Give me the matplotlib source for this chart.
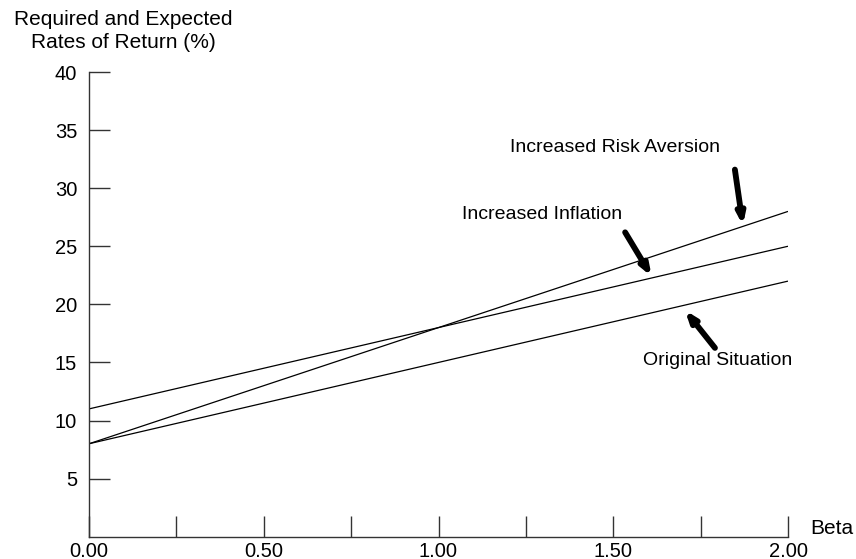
import matplotlib
matplotlib.use("Agg")
import matplotlib.pyplot as plt

plt.rcParams['font.family'] = ['Liberation Sans', 'DejaVu Sans']

beta = [0.0, 2.0]
original = [8, 22]
inflation = [11, 25]
risk_aversion = [8, 28]

y_ticks = [5, 10, 15, 20, 25, 30, 35, 40]
x_major = [0.0, 0.5, 1.0, 1.5, 2.0]
x_labels = ["0.00", "0.50", "1.00", "1.50", "2.00"]
x_minor = [0.25, 0.75, 1.25, 1.75]

fig = plt.figure(figsize=(8.56, 5.59), dpi=100)
ax = fig.add_axes([89/856, 1-536.7/559, (788-89)/856, (536.7-72)/559])

for series in (original, inflation, risk_aversion):
    ax.plot(beta, series, color='black', lw=0.9, solid_capstyle='butt')

ax.set_xlim(0, 2)
ax.set_ylim(0, 40)
for s in ('top', 'right'):
    ax.spines[s].set_visible(False)
for s in ('left', 'bottom'):
    ax.spines[s].set_color('#333333')
    ax.spines[s].set_linewidth(1.0)

ax.set_yticks(y_ticks)
ax.set_yticklabels([str(v) for v in y_ticks])
ax.set_xticks(x_major)
ax.set_xticklabels(x_labels)
ax.set_xticks(x_minor, minor=True)
ax.tick_params(axis='both', which='both', direction='in', length=15, width=1.0,
               color='#333333', labelsize=14.5)
ax.tick_params(axis='y', pad=8.5)
ax.tick_params(axis='x', pad=3.5)

tsize = 14
ax.text(1.505, 33.5, "Increased Risk Aversion", ha='center', va='center', fontsize=tsize)
ax.text(1.297, 27.7, "Increased Inflation", ha='center', va='center', fontsize=tsize)
ax.text(1.80, 15.15, "Original Situation", ha='center', va='center', fontsize=tsize)

arrow = dict(arrowstyle='-|>,head_length=0.6,head_width=0.22', lw=4.2, color='black',
             shrinkA=0, shrinkB=0)
ax.annotate("", xy=(1.871, 26.8), xytext=(1.848, 31.6), arrowprops=arrow)
ax.annotate("", xy=(1.61, 22.4), xytext=(1.534, 26.2), arrowprops=arrow)
ax.annotate("", xy=(1.705, 19.5), xytext=(1.791, 16.25), arrowprops=arrow)

ax.text(2.063, 0.7, "Beta", ha='left', va='center', fontsize=15, clip_on=False)
fig.text(123/856, 1-31/559, "Required and Expected\nRates of Return (%)",
         ha='center', va='center', multialignment='center', fontsize=15,
         linespacing=1.3)

fig.savefig("out.png", dpi=100)
